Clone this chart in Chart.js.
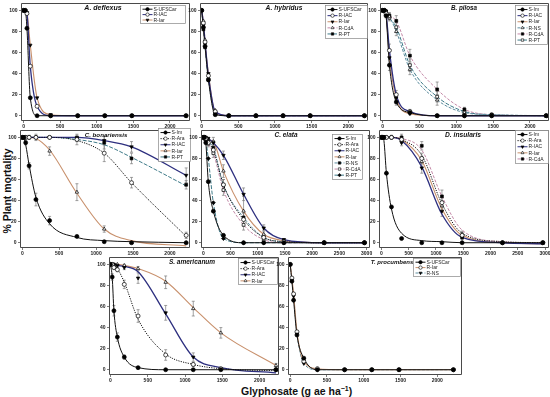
<!DOCTYPE html>
<html><head><meta charset="utf-8">
<script src="https://cdn.jsdelivr.net/npm/chart.js@4.4.1/dist/chart.umd.min.js"></script>
<style>
html,body{margin:0;padding:0;background:#fff}
body{width:550px;height:397px;position:relative;overflow:hidden;font-family:"Liberation Sans",Arial,sans-serif}
.pw{position:absolute}
.pw canvas{position:absolute;left:0;top:0}
#ytitle{position:absolute;left:7px;top:191px;transform:translate(-50%,-50%) rotate(-90deg);font:bold 10.5px "Liberation Sans",Arial,sans-serif;white-space:nowrap;color:#111}
#xtitle{position:absolute;left:241px;top:391px;transform:translateY(-50%);font:bold 10.5px "Liberation Sans",Arial,sans-serif;white-space:nowrap;color:#111}
#xtitle sup{font-size:7px;vertical-align:4px;line-height:0}
</style></head><body>
<div id="ytitle">% Plant mortality</div>
<div id="xtitle">Glyphosate (g ae ha<sup>−1</sup>)</div>
<script>
// ---------- DATA ----------
const doses = [0, 23, 46, 92, 185, 370, 740, 1110, 1480, 2220];
const dosesLong = [0, 23, 46, 92, 185, 370, 740, 1110, 1480, 2220, 2960];
const yTicks = [0, 20, 40, 60, 80, 100];
const xTicksShort = [0, 500, 1000, 1500, 2000];
const xTicksLong = [0, 500, 1000, 1500, 2000, 2500, 3000];

// A. deflexus
const deflexusSUFSCar = [100, 100, 83, 17, 0, 0, 0, 0, 0, 0];
const deflexusRIAC    = [100, 100, 97, 47, 9, 0, 0, 0, 0, 0];
const deflexusRIar    = [100, 100, 98, 67, 17, 1, 0, 0, 0, 0];

// A. hybridus
const hybridusSUFSCar = [100, 84, 66, 34, 1, 0, 0, 0, 0, 0];
const hybridusRIAC    = [100, 88, 70, 38, 4, 0, 0, 0, 0, 0];
const hybridusRIar    = [100, 86, 68, 40, 3, 0, 0, 0, 0, 0];
const hybridusRCdA    = [100, 90, 72, 36, 5, 0, 0, 0, 0, 0];
const hybridusRPT     = [100, 82, 65, 34, 2, 0, 0, 0, 0, 0];

// B. pilosa
const pilosaSIm   = [100, 100, 95, 48, 13, 3, 0, 0, 0, 0];
const pilosaRIAC  = [100, 100, 97, 62, 20, 4, 0, 0, 0, 0];
const pilosaRIar  = [100, 100, 96, 55, 17, 2, 0, 0, 0, 0];
const pilosaRNS   = [100, 100, 99, 94, 80, 44, 15, 3, 1, 0];
const pilosaRCdA  = [100, 100, 99, 95, 90, 57, 25, 6, 1, 0];
const pilosaRPT   = [100, 100, 99, 93, 84, 48, 18, 4, 1, 0];
const pilosaErrSIm  = [0, 0, 2, 5, 3, 2, 0, 0, 0, 0];
const pilosaErrRIAC = [0, 0, 2, 6, 4, 2, 0, 0, 0, 0];
const pilosaErrRNS  = [0, 0, 0, 3, 4, 5, 5, 2, 0, 0];
const pilosaErrRCdA = [0, 0, 1, 3, 5, 6, 7, 2, 0, 0];
const pilosaErrRPT  = [0, 0, 0, 3, 5, 6, 5, 2, 0, 0];

// C. bonariensis
const bonarSIm   = [100, 100, 95, 73, 41, 21, 6, 1, 0, 0];
const bonarRAra  = [100, 100, 100, 100, 100, 100, 98, 85, 57, 7];
const bonarRIAC  = [100, 100, 100, 100, 100, 100, 100, 97, 91, 64];
const bonarRIar  = [100, 100, 100, 100, 100, 87, 48, 13, 0, 0];
const bonarRPT   = [100, 100, 100, 100, 100, 100, 99, 95, 80, 55];
const bonarFitSIm  = [100, 99, 93, 74, 43, 18, 5, 2, 1, 0];
const bonarFitRAra = [100, 100, 100, 100, 100, 100, 97, 85, 57, 6];
const bonarFitRIar = [100, 100, 100, 100, 99, 88, 47, 13, 2, -3];
const bonarFitRPT  = [100, 100, 100, 100, 100, 100, 98, 93, 81, 54];
const bonarErrSIm  = [0, 1, 2, 3, 6, 4, 1, 0, 0, 0];
const bonarErrRAra = [0, 0, 0, 0, 0, 0, 5, 8, 5, 3];
const bonarErrRIAC = [0, 0, 0, 0, 0, 0, 0, 4, 5, 7];
const bonarErrRIar = [0, 0, 0, 2, 3, 4, 8, 3, 0, 0];
const bonarErrRPT  = [0, 0, 0, 0, 0, 0, 3, 6, 5, 4];

// C. elata
const elataSIm  = [100, 100, 95, 58, 30, 7, 0, 0, 0, 0, 0];
const elataRAra = [100, 100, 99, 95, 88, 55, 22, 5, 1, 0, 0];
const elataRIAC = [100, 100, 100, 99, 95, 83, 46, 14, 3, 0, 0];
const elataRIar = [100, 100, 100, 98, 96, 68, 30, 8, 2, 0, 0];
const elataRNS  = [100, 100, 99, 96, 90, 55, 24, 5, 1, 0, 0];
const elataRCdA = [100, 100, 99, 94, 85, 50, 17, 3, 0, 0, 0];
const elataRPT  = [100, 100, 97, 80, 38, 4, 0, 0, 0, 0, 0];
const elataErrRAra = [0, 0, 0, 2, 4, 5, 6, 3, 0, 0, 0];
const elataErrRIAC = [0, 0, 0, 1, 2, 4, 6, 3, 1, 0, 0];
const elataErrRIar = [0, 0, 0, 2, 4, 6, 14, 4, 1, 0, 0];
const elataErrRNS  = [0, 0, 0, 2, 4, 5, 6, 2, 0, 0, 0];
const elataErrRCdA = [0, 0, 0, 3, 4, 5, 5, 2, 0, 0, 0];

// D. insularis
const insulSIm  = [100, 100, 100, 66, 34, 4, 0, 0, 0, 0, 0];
const insulRAra = [100, 100, 100, 100, 100, 98, 80, 38, 7, 0, 0];
const insulRIAC = [100, 100, 100, 100, 100, 95, 71, 30, 6, 0, 0];
const insulRIar = [100, 100, 100, 100, 100, 97, 77, 35, 8, 0, 0];
const insulRCdA = [100, 100, 100, 100, 100, 100, 92, 44, 5, 0, 0];
const insulFitSIm  = [100, 100, 97, 66, 32, 9, 2, 1, 0, 0, 0];
const insulFitRAra = [100, 100, 100, 100, 100, 98, 83, 37, 9, 1, 0];
const insulFitRIAC = [100, 100, 100, 100, 100, 97, 72, 27, 5, 0, -1];
const insulFitRIar = [100, 100, 100, 100, 100, 98, 78, 32, 7, 0, -1];
const insulFitRCdA = [100, 100, 100, 100, 100, 99, 88, 44, 12, 1, 0];
const insulErrRAra = [0, 0, 0, 0, 0, 3, 5, 5, 3, 0, 0];
const insulErrRIAC = [0, 0, 0, 0, 0, 3, 5, 5, 3, 0, 0];
const insulErrRIar = [0, 0, 0, 0, 0, 3, 5, 5, 3, 0, 0];
const insulErrRCdA = [0, 0, 0, 0, 2, 3, 4, 6, 4, 0, 0];

// S. americanum
const amerSUFSCar = [100, 88, 56, 31, 12, 2, 0, 0, 0, 0];
const amerRAra    = [100, 100, 97, 95, 81, 51, 14, 5, 1, 0];
const amerRIAC    = [100, 100, 100, 99, 97, 87, 54, 12, 1, 0];
const amerRIar    = [100, 100, 100, 100, 99, 96, 83, 58, 35, 4];
const amerFitRAra = [100, 100, 99, 96, 83, 48, 15, 5, 1, -1];
const amerFitRIAC = [100, 100, 100, 99, 98, 93, 53, 12, 2, -3];
const amerFitRIar = [100, 100, 100, 100, 99, 96, 84, 59, 35, 4];
const amerErrSUFSCar = [0, 3, 5, 4, 2, 1, 0, 0, 0, 0];
const amerErrRAra    = [0, 0, 2, 2, 4, 6, 5, 2, 0, 0];
const amerErrRIAC    = [0, 0, 0, 1, 2, 5, 7, 4, 0, 0];
const amerErrRIar    = [0, 0, 0, 0, 1, 2, 6, 7, 5, 2];

// T. procumbens
const procSUFSCar = [100, 84, 66, 33, 11, 0, 0, 0, 0, 0];
const procRIar    = [100, 87, 72, 36, 8, 1, 0, 0, 0, 0];
const procRNS     = [100, 85, 70, 34, 6, 0, 0, 0, 0, 0];

// ---------- PANELS (data references + layout) ----------
const panels = [
 {title:'A. deflexus', dose:doses, xt:xTicksShort, xr:[-35,2274],
  series:[{n:'S-UFSCar',y:deflexusSUFSCar},{n:'R-IAC',y:deflexusRIAC},{n:'R-Iar',y:deflexusRIar}],
  box:[21,3,190,121], leg:[140,5,185], tp:[103,8], ts:7},
 {title:'A. hybridus', dose:doses, xt:xTicksShort, xr:[-23,2269],
  series:[{n:'S-UFSCar',y:hybridusSUFSCar},{n:'R-IAC',y:hybridusRIAC},{n:'R-Iar',y:hybridusRIar},{n:'R-CdA',y:hybridusRCdA},{n:'R-PT',y:hybridusRPT}],
  box:[200,3,368,121], leg:[325,5,367], tp:[284,8], ts:6.7},
 {title:'B. pilosa', dose:doses, xt:xTicksShort, xr:[-36,2258],
  series:[{n:'S-Im',y:pilosaSIm,e:pilosaErrSIm},{n:'R-IAC',y:pilosaRIAC,e:pilosaErrRIAC},{n:'R-Iar',y:pilosaRIar},{n:'R-NS',y:pilosaRNS,e:pilosaErrRNS},{n:'R-CdA',y:pilosaRCdA,e:pilosaErrRCdA},{n:'R-PT',y:pilosaRPT,e:pilosaErrRPT}],
  box:[380,3,549,121], leg:[515,5,547], tp:[464,8], ts:6.3},
 {title:'C. bonariensis', dose:doses, xt:xTicksShort, xr:[-31,2272],
  series:[{n:'S-Im',y:bonarSIm,f:bonarFitSIm,e:bonarErrSIm},{n:'R-Ara',y:bonarRAra,f:bonarFitRAra,e:bonarErrRAra},{n:'R-IAC',y:bonarRIAC,e:bonarErrRIAC},{n:'R-Iar',y:bonarRIar,f:bonarFitRIar,e:bonarErrRIar},{n:'R-PT',y:bonarRPT,f:bonarFitRPT,e:bonarErrRPT}],
  box:[20,130,190,248], leg:[158,128,190], tp:[106,135.5], ts:6.2},
 {title:'C. elata', dose:dosesLong, xt:xTicksLong, xr:[-42,3062],
  series:[{n:'S-Im',y:elataSIm},{n:'R-Ara',y:elataRAra,e:elataErrRAra},{n:'R-IAC',y:elataRIAC,e:elataErrRIAC},{n:'R-Iar',y:elataRIar,e:elataErrRIar},{n:'R-NS',y:elataRNS,e:elataErrRNS},{n:'R-CdA',y:elataRCdA,e:elataErrRCdA},{n:'R-PT',y:elataRPT}],
  box:[201,130,370,248], leg:[332,134,362], tp:[286,135.5], ts:6.5},
 {title:'D. insularis', dose:dosesLong, xt:xTicksLong, xr:[-44,3073],
  series:[{n:'S-Im',y:insulSIm,f:insulFitSIm},{n:'R-Ara',y:insulRAra,f:insulFitRAra,e:insulErrRAra},{n:'R-IAC',y:insulRIAC,f:insulFitRIAC,e:insulErrRIAC},{n:'R-Iar',y:insulRIar,f:insulFitRIar,e:insulErrRIar},{n:'R-CdA',y:insulRCdA,f:insulFitRCdA,e:insulErrRCdA}],
  box:[379,130,549,248], leg:[515,130,548], tp:[463,135], ts:6.7},
 {title:'S. americanum', dose:doses, xt:xTicksShort, xr:[-20,2260],
  series:[{n:'S-UFSCar',y:amerSUFSCar,e:amerErrSUFSCar},{n:'R-Ara',y:amerRAra,f:amerFitRAra,e:amerErrRAra},{n:'R-IAC',y:amerRIAC,f:amerFitRIAC,e:amerErrRIAC},{n:'R-Iar',y:amerRIar,f:amerFitRIar,e:amerErrRIar}],
  box:[109,257,279,375], leg:[238,258,277], tp:[192,262], ts:6.5},
 {title:'T. procumbens', dose:doses, xt:xTicksShort, xr:[-30,2337],
  series:[{n:'S-UFSCar',y:procSUFSCar},{n:'R-Iar',y:procRIar},{n:'R-NS',y:procRNS}],
  box:[288,257,462,375], leg:[413,258,460], tp:[392,262], ts:6}
];

// ---------- STYLES ----------
const FF = "'Liberation Sans', Arial, sans-serif";
const lineStyle = {
 'S-UFSCar':{c:'#111111',w:1,d:[]},
 'S-Im':{c:'#111111',w:1,d:[]},
 'R-Ara':{c:'#111111',w:1,d:[1.2,1.2]},
 'R-IAC':{c:'#2d2f7f',w:1.3,d:[]},
 'R-Iar':{c:'#c8906c',w:1.1,d:[]},
 'R-NS':{c:'#5f8ea0',w:1,d:[3,1.5]},
 'R-CdA':{c:'#c48aa8',w:1,d:[3,1.5]},
 'R-PT':{c:'#3e7a88',w:1,d:[4,1.5]}
};
const markers = [
 {s:'circle',fill:true,rot:0},
 {s:'circle',fill:false,rot:0},
 {s:'triangle',fill:true,rot:180},
 {s:'triangle',fill:false,rot:0},
 {s:'rect',fill:true,rot:0},
 {s:'rect',fill:false,rot:0},
 {s:'rectRot',fill:true,rot:0}
];

function drawMarker(ctx, mk, x, y, r){
  ctx.save();
  ctx.fillStyle = mk.fill ? '#000' : '#fff';
  ctx.strokeStyle = '#000'; ctx.lineWidth = 0.6; ctx.setLineDash([]);
  if (Chart.helpers && Chart.helpers.drawPoint) {
    Chart.helpers.drawPoint(ctx, {pointStyle:mk.s, rotation:mk.rot, radius:r, borderWidth:0.6}, x, y);
  } else {
    ctx.beginPath(); ctx.arc(x,y,r,0,Math.PI*2); ctx.fill(); ctx.stroke();
  }
  ctx.restore();
}

const YW=20, PT=7, PR=8, XH=12;

panels.forEach(p=>{
  const [L,T,R,B] = p.box;
  const cl=L-YW, ct=T-PT, W=R-L+YW+PR, H=B-T+PT+XH;
  const wrap=document.createElement('div'); wrap.className='pw';
  wrap.style.cssText=`left:${cl}px;top:${ct}px;width:${W}px;height:${H}px`;
  const cv=document.createElement('canvas'); cv.width=W; cv.height=H;
  cv.style.width=W+'px'; cv.style.height=H+'px';
  wrap.appendChild(cv); document.body.appendChild(wrap);

  const datasets=[];
  p.series.forEach((s,i)=>{
    const st=lineStyle[s.n], mk=markers[i];
    const fit=s.f||s.y;
    datasets.push({label:s.n+' fit', data:p.dose.map((d,j)=>({x:d,y:fit[j]})), showLine:true, pointRadius:0,
      borderColor:st.c, borderWidth:st.w, borderDash:st.d, cubicInterpolationMode:'monotone', fill:false, order:2});
    datasets.push({label:s.n, data:p.dose.map((d,j)=>({x:d,y:s.y[j]})), showLine:false,
      pointStyle:mk.s, pointRotation:mk.rot, pointRadius:2,
      pointBackgroundColor:mk.fill?'#000':'#fff', pointBorderColor:'#000', pointBorderWidth:0.7,
      order:1, err:s.e||null});
  });

  const deco={
    id:'deco',
    beforeDatasetsDraw(chart){
      const ctx=chart.ctx, xs=chart.scales.x, ys=chart.scales.y;
      ctx.save(); ctx.strokeStyle='#7a7a7a'; ctx.lineWidth=0.7;
      chart.data.datasets.forEach(ds=>{
        if(!ds.err) return;
        ds.data.forEach((pt,j)=>{
          const e=ds.err[j]; if(!e) return;
          const px=xs.getPixelForValue(pt.x), y1=ys.getPixelForValue(pt.y+e), y2=ys.getPixelForValue(pt.y-e);
          ctx.beginPath(); ctx.moveTo(px,y1); ctx.lineTo(px,y2);
          ctx.moveTo(px-1.5,y1); ctx.lineTo(px+1.5,y1);
          ctx.moveTo(px-1.5,y2); ctx.lineTo(px+1.5,y2); ctx.stroke();
        });
      });
      ctx.restore();
    },
    afterDraw(chart){
      const ctx=chart.ctx, a=chart.chartArea;
      ctx.save();
      ctx.globalAlpha=1;
      ctx.strokeStyle='#4a4a4a'; ctx.lineWidth=1; ctx.setLineDash([]);
      const fl=Math.round(a.left)+0.5, ft=Math.round(a.top)+0.5, fr=Math.round(a.right)-0.5, fb=Math.round(a.bottom)-0.5;
      ctx.beginPath();
      ctx.moveTo(fl,ft); ctx.lineTo(fr,ft); ctx.lineTo(fr,fb); ctx.lineTo(fl,fb); ctx.closePath();
      ctx.stroke();
      // title
      ctx.fillStyle='#111'; ctx.font=`italic bold ${p.ts}px ${FF}`;
      ctx.textAlign='center'; ctx.textBaseline='middle';
      ctx.fillText(p.title, p.tp[0]-cl, p.tp[1]-ct);
      // legend
      const n=p.series.length;
      const lx=Math.round(p.leg[0]-cl)+0.5, ly=Math.round(p.leg[1]-ct)+0.5, lw=p.leg[2]-p.leg[0];
      const rh= n<=3 ? 5.4 : 6.1;
      const lh=Math.round(n*rh+2);
      ctx.fillStyle='#fff'; ctx.fillRect(lx,ly,lw,lh);
      ctx.strokeStyle='#888'; ctx.lineWidth=0.7; ctx.strokeRect(lx,ly,lw,lh);
      p.series.forEach((s,i)=>{
        const st=lineStyle[s.n], yy=ly+1+rh*(i+0.5);
        ctx.strokeStyle=st.c; ctx.lineWidth=Math.min(st.w,1); ctx.setLineDash(st.d);
        ctx.beginPath(); ctx.moveTo(lx+2,yy); ctx.lineTo(lx+12,yy); ctx.stroke();
        ctx.setLineDash([]);
        drawMarker(ctx, markers[i], lx+7, yy, 1.7);
        ctx.fillStyle='#222'; ctx.font=`5px ${FF}`; ctx.textAlign='left'; ctx.textBaseline='middle';
        ctx.fillText(s.n, lx+13, yy+0.3);
      });
      ctx.restore();
    }
  };

  new Chart(cv,{
    type:'scatter',
    data:{datasets},
    options:{
      responsive:false, animation:false, devicePixelRatio:1,
      layout:{padding:{left:0,top:PT,right:PR,bottom:0}},
      plugins:{legend:{display:false}, tooltip:{enabled:false}, title:{display:false}},
      scales:{
        x:{type:'linear', min:p.xr[0], max:p.xr[1],
          afterBuildTicks:a=>{a.ticks=p.xt.map(v=>({value:v}));},
          afterFit:a=>{a.height=XH;},
          grid:{display:true, drawOnChartArea:false, drawTicks:true, tickLength:2, color:'#444', lineWidth:0.7},
          border:{display:false},
          ticks:{font:{size:5,family:FF,weight:'bold'}, color:'#222', padding:1, maxRotation:0, autoSkip:false, callback:v=>String(v)}},
        y:{type:'linear', min:-5, max:107,
          afterBuildTicks:a=>{a.ticks=yTicks.map(v=>({value:v}));},
          afterFit:a=>{a.width=YW;},
          grid:{display:true, drawOnChartArea:false, drawTicks:true, tickLength:2, color:'#444', lineWidth:0.7},
          border:{display:false},
          ticks:{font:{size:5,family:FF,weight:'bold'}, color:'#222', padding:1.5, autoSkip:false, callback:v=>String(v)}}
      }
    },
    plugins:[deco]
  });
});
</script>
</body></html>
